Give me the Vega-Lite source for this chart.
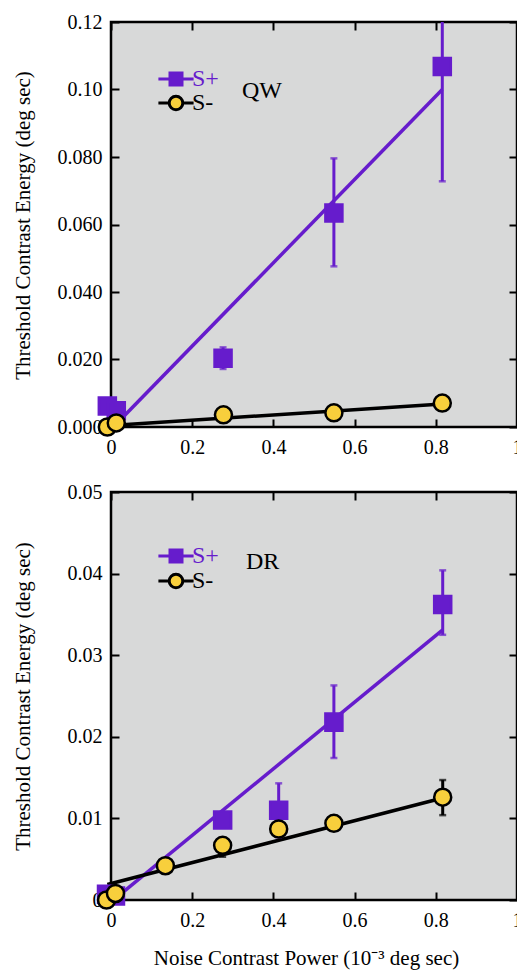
{
  "$schema": "https://vega.github.io/schema/vega-lite/v6.json",
  "background": "white",
  "padding": {"left": 10, "top": 10, "right": 0, "bottom": 5},
  "config": {
    "font": "Liberation Serif, Times New Roman, serif",
    "view": {"fill": "#d8d9d9", "stroke": "black", "strokeWidth": 2.5},
    "axis": {
      "domain": false, "grid": false, "tickSize": -8, "tickWidth": 2, "tickColor": "black",
      "labelColor": "black", "labelFont": "Liberation Serif, Times New Roman, serif", "labelFontSize": 20,
      "titleFont": "Liberation Serif, Times New Roman, serif", "titleFontSize": 21, "titleFontWeight": "normal", "titleColor": "black",
      "labelFlush": false, "labelOverlap": false
    },
    "legend": {
      "labelFont": "Liberation Serif, Times New Roman, serif", "labelFontSize": 24, "labelColor": "black",
      "titleFont": "Liberation Serif, Times New Roman, serif", "titleFontSize": 24, "titleFontWeight": "normal", "titleColor": "black"
    }
  },
  "datasets": {
    "pts": [
      {"panel": "QW", "series": "S+", "x": -0.009, "y": 0.0062},
      {"panel": "QW", "series": "S+", "x": 0.013, "y": 0.0048},
      {"panel": "QW", "series": "S+", "x": 0.276, "y": 0.0204, "lo": 0.0172, "hi": 0.0236},
      {"panel": "QW", "series": "S+", "x": 0.549, "y": 0.0634, "lo": 0.0476, "hi": 0.0796},
      {"panel": "QW", "series": "S+", "x": 0.816, "y": 0.1068, "lo": 0.0728, "hi": 0.1405},
      {"panel": "QW", "series": "S-", "x": -0.009, "y": 0.0},
      {"panel": "QW", "series": "S-", "x": 0.013, "y": 0.0012},
      {"panel": "QW", "series": "S-", "x": 0.277, "y": 0.0036},
      {"panel": "QW", "series": "S-", "x": 0.549, "y": 0.0042},
      {"panel": "QW", "series": "S-", "x": 0.816, "y": 0.0071},
      {"panel": "DR", "series": "S+", "x": -0.011, "y": 0.0007},
      {"panel": "DR", "series": "S+", "x": 0.011, "y": 0.0005},
      {"panel": "DR", "series": "S+", "x": 0.275, "y": 0.0098},
      {"panel": "DR", "series": "S+", "x": 0.413, "y": 0.011, "lo": 0.0077, "hi": 0.0143},
      {"panel": "DR", "series": "S+", "x": 0.549, "y": 0.0218, "lo": 0.0174, "hi": 0.0263},
      {"panel": "DR", "series": "S+", "x": 0.817, "y": 0.0362, "lo": 0.0325, "hi": 0.0404},
      {"panel": "DR", "series": "S-", "x": -0.011, "y": 0.0},
      {"panel": "DR", "series": "S-", "x": 0.011, "y": 0.0008},
      {"panel": "DR", "series": "S-", "x": 0.134, "y": 0.0042},
      {"panel": "DR", "series": "S-", "x": 0.275, "y": 0.0067, "lo": 0.0053, "hi": 0.0075},
      {"panel": "DR", "series": "S-", "x": 0.413, "y": 0.0087, "lo": 0.0078, "hi": 0.0096},
      {"panel": "DR", "series": "S-", "x": 0.549, "y": 0.0094, "lo": 0.0085, "hi": 0.0103},
      {"panel": "DR", "series": "S-", "x": 0.817, "y": 0.0126, "lo": 0.0104, "hi": 0.0147}
    ],
    "fits": [
      {"panel": "QW", "series": "S+", "x": 0.013, "y": 0.0009},
      {"panel": "QW", "series": "S+", "x": 0.816, "y": 0.1},
      {"panel": "QW", "series": "S-", "x": -0.009, "y": 0.0004},
      {"panel": "QW", "series": "S-", "x": 0.816, "y": 0.0068},
      {"panel": "DR", "series": "S+", "x": 0.011, "y": 0.0002},
      {"panel": "DR", "series": "S+", "x": 0.817, "y": 0.0331},
      {"panel": "DR", "series": "S-", "x": -0.009, "y": 0.0019},
      {"panel": "DR", "series": "S-", "x": 0.817, "y": 0.0125}
    ]
  },
  "bounds": "flush",
  "spacing": 65,
  "resolve": {
    "scale": {"shape": "independent", "fill": "independent", "stroke": "independent"},
    "legend": {"shape": "independent", "fill": "independent", "stroke": "independent"}
  },
  "vconcat": [
    {
      "width": 406, "height": 405,
      "resolve": {
        "axis": {"x": "independent", "y": "independent"},
        "scale": {"shape": "independent", "fill": "independent", "stroke": "independent"},
        "legend": {"shape": "independent", "fill": "independent", "stroke": "independent"}
      },
      "layer": [
        {
          "data": {"name": "fits"},
          "transform": [{"filter": "datum.panel === 'QW'"}],
          "mark": {"type": "line", "strokeWidth": 3.5},
          "encoding": {
            "x": {"field": "x", "type": "quantitative", "scale": {"domain": [0, 1], "nice": false, "zero": false},
                  "axis": {"orient": "bottom", "values": [0, 0.2, 0.4, 0.6, 0.8, 1], "labelExpr": "format(datum.value, '~g')", "labelPadding": 18, "title": null}},
            "y": {"field": "y", "type": "quantitative", "scale": {"domain": [0, 0.12], "nice": false},
                  "axis": {"orient": "left", "values": [0, 0.02, 0.04, 0.06, 0.08, 0.1, 0.12], "labelExpr": "datum.value >= 0.099 ? format(datum.value, '.2f') : format(datum.value, '.3f')", "labelPadding": 17, "title": "Threshold Contrast Energy (deg sec)", "titleX": -78, "titleY": 203}},
            "color": {"field": "series", "type": "nominal", "scale": {"domain": ["S+", "S-"], "range": ["#661ccc", "#000000"]}, "legend": null}
          }
        },
        {
          "data": {"name": "pts"},
          "transform": [{"filter": "datum.panel === 'QW' && isValid(datum.lo)"}],
          "mark": {"type": "errorbar", "clip": true, "ticks": {"size": 7, "thickness": 2.5}, "rule": {"strokeWidth": 3}},
          "encoding": {
            "x": {"field": "x", "type": "quantitative", "axis": null},
            "y": {"field": "lo", "type": "quantitative", "axis": null},
            "y2": {"field": "hi"},
            "color": {"field": "series", "type": "nominal", "legend": null}
          }
        },
        {
          "data": {"name": "pts"},
          "transform": [{"filter": "datum.panel === 'QW'"}],
          "mark": {"type": "point", "filled": true, "size": 290, "strokeWidth": 2.5, "opacity": 1},
          "encoding": {
            "x": {"field": "x", "type": "quantitative", "axis": {"orient": "top", "values": [0, 0.2, 0.4, 0.6, 0.8, 1], "labels": false, "title": null}},
            "y": {"field": "y", "type": "quantitative", "axis": {"orient": "right", "values": [0, 0.02, 0.04, 0.06, 0.08, 0.1, 0.12], "labels": false, "title": null}},
            "shape": {"field": "series", "type": "nominal", "scale": {"domain": ["S+", "S-"], "range": ["square", "circle"]}, "legend": null},
            "fill": {"field": "series", "type": "nominal", "scale": {"domain": ["S+", "S-"], "range": ["#661ccc", "#f8cf3c"]}, "legend": null},
            "stroke": {"field": "series", "type": "nominal", "scale": {"domain": ["S+", "S-"], "range": ["#661ccc", "#000000"]}, "legend": null}
          }
        },
        {
          "data": {"name": "pts"},
          "transform": [{"filter": "datum.panel === 'QW'"}],
          "mark": {"type": "point", "filled": true, "opacity": 0, "strokeWidth": 3},
          "encoding": {
            "x": {"field": "x", "type": "quantitative", "axis": null},
            "y": {"field": "y", "type": "quantitative", "axis": null},
            "shape": {"field": "series", "type": "nominal",
              "scale": {"domain": ["S+", "S-"], "range": ["M-2.2,0H2.2M-0.75,-0.75H0.75V0.75H-0.75Z", "M-2.2,0H-0.85M0.85,0H2.2M-0.85,0A0.85,0.85,0,1,0,0.85,0A0.85,0.85,0,1,0,-0.85,0Z"]},
              "legend": {"title": "QW", "orient": "none", "legendX": 53, "legendY": 45, "titleOrient": "right", "titleAnchor": "middle", "titleBaseline": "middle", "titlePadding": 23, "labelOffset": 4, "symbolSize": 256, "symbolStrokeWidth": 3, "symbolOpacity": 1, "rowPadding": -2.5, "padding": 0,
                "encoding": {"labels": {"fill": {"condition": {"test": "datum.value === 'S+'", "value": "#661ccc"}, "value": "#000000"}}}}},
            "fill": {"field": "series", "type": "nominal", "scale": {"domain": ["S+", "S-"], "range": ["#661ccc", "#f8cf3c"]},
              "legend": {"title": "QW", "orient": "none", "legendX": 53, "legendY": 45, "symbolOpacity": 1}},
            "stroke": {"field": "series", "type": "nominal", "scale": {"domain": ["S+", "S-"], "range": ["#661ccc", "#000000"]},
              "legend": {"title": "QW", "orient": "none", "legendX": 53, "legendY": 45, "symbolOpacity": 1}}
          }
        }
      ]
    },
    {
      "width": 406, "height": 408,
      "resolve": {
        "axis": {"x": "independent", "y": "independent"},
        "scale": {"shape": "independent", "fill": "independent", "stroke": "independent"},
        "legend": {"shape": "independent", "fill": "independent", "stroke": "independent"}
      },
      "layer": [
        {
          "data": {"name": "fits"},
          "transform": [{"filter": "datum.panel === 'DR'"}],
          "mark": {"type": "line", "strokeWidth": 3.5},
          "encoding": {
            "x": {"field": "x", "type": "quantitative", "scale": {"domain": [0, 1], "nice": false, "zero": false},
                  "axis": {"orient": "bottom", "values": [0, 0.2, 0.4, 0.6, 0.8, 1], "labelExpr": "format(datum.value, '~g')", "labelPadding": 18, "title": "Noise Contrast Power (10⁻³ deg sec)", "titleX": 195, "titleY": 47, "titleBaseline": "top"}},
            "y": {"field": "y", "type": "quantitative", "scale": {"domain": [0, 0.05], "nice": false},
                  "axis": {"orient": "left", "values": [0, 0.01, 0.02, 0.03, 0.04, 0.05], "labelExpr": "datum.value === 0 ? '0' : format(datum.value, '.2f')", "labelPadding": 17, "title": "Threshold Contrast Energy (deg sec)", "titleX": -78, "titleY": 204}},
            "color": {"field": "series", "type": "nominal", "scale": {"domain": ["S+", "S-"], "range": ["#661ccc", "#000000"]}, "legend": null}
          }
        },
        {
          "data": {"name": "pts"},
          "transform": [{"filter": "datum.panel === 'DR' && isValid(datum.lo)"}],
          "mark": {"type": "errorbar", "clip": true, "ticks": {"size": 7, "thickness": 2.5}, "rule": {"strokeWidth": 3}},
          "encoding": {
            "x": {"field": "x", "type": "quantitative", "axis": null},
            "y": {"field": "lo", "type": "quantitative", "axis": null},
            "y2": {"field": "hi"},
            "color": {"field": "series", "type": "nominal", "legend": null}
          }
        },
        {
          "data": {"name": "pts"},
          "transform": [{"filter": "datum.panel === 'DR'"}],
          "mark": {"type": "point", "filled": true, "size": 290, "strokeWidth": 2.5, "opacity": 1},
          "encoding": {
            "x": {"field": "x", "type": "quantitative", "axis": {"orient": "top", "values": [0, 0.2, 0.4, 0.6, 0.8, 1], "labels": false, "title": null}},
            "y": {"field": "y", "type": "quantitative", "axis": {"orient": "right", "values": [0, 0.01, 0.02, 0.03, 0.04, 0.05], "labels": false, "title": null}},
            "shape": {"field": "series", "type": "nominal", "scale": {"domain": ["S+", "S-"], "range": ["square", "circle"]}, "legend": null},
            "fill": {"field": "series", "type": "nominal", "scale": {"domain": ["S+", "S-"], "range": ["#661ccc", "#f8cf3c"]}, "legend": null},
            "stroke": {"field": "series", "type": "nominal", "scale": {"domain": ["S+", "S-"], "range": ["#661ccc", "#000000"]}, "legend": null}
          }
        },
        {
          "data": {"name": "pts"},
          "transform": [{"filter": "datum.panel === 'DR'"}],
          "mark": {"type": "point", "filled": true, "opacity": 0, "strokeWidth": 3},
          "encoding": {
            "x": {"field": "x", "type": "quantitative", "axis": null},
            "y": {"field": "y", "type": "quantitative", "axis": null},
            "shape": {"field": "series", "type": "nominal",
              "scale": {"domain": ["S+", "S-"], "range": ["M-2.2,0H2.2M-0.75,-0.75H0.75V0.75H-0.75Z", "M-2.2,0H-0.85M0.85,0H2.2M-0.85,0A0.85,0.85,0,1,0,0.85,0A0.85,0.85,0,1,0,-0.85,0Z"]},
              "legend": {"title": "DR", "orient": "none", "legendX": 53, "legendY": 52, "titleOrient": "right", "titleAnchor": "middle", "titleBaseline": "alphabetic", "titlePadding": 27, "labelOffset": 4, "symbolSize": 256, "symbolStrokeWidth": 3, "symbolOpacity": 1, "rowPadding": 0, "padding": 0,
                "encoding": {"labels": {"fill": {"condition": {"test": "datum.value === 'S+'", "value": "#661ccc"}, "value": "#000000"}}}}},
            "fill": {"field": "series", "type": "nominal", "scale": {"domain": ["S+", "S-"], "range": ["#661ccc", "#f8cf3c"]},
              "legend": {"title": "DR", "orient": "none", "legendX": 53, "legendY": 52, "symbolOpacity": 1}},
            "stroke": {"field": "series", "type": "nominal", "scale": {"domain": ["S+", "S-"], "range": ["#661ccc", "#000000"]},
              "legend": {"title": "DR", "orient": "none", "legendX": 53, "legendY": 52, "symbolOpacity": 1}}
          }
        }
      ]
    }
  ]
}
